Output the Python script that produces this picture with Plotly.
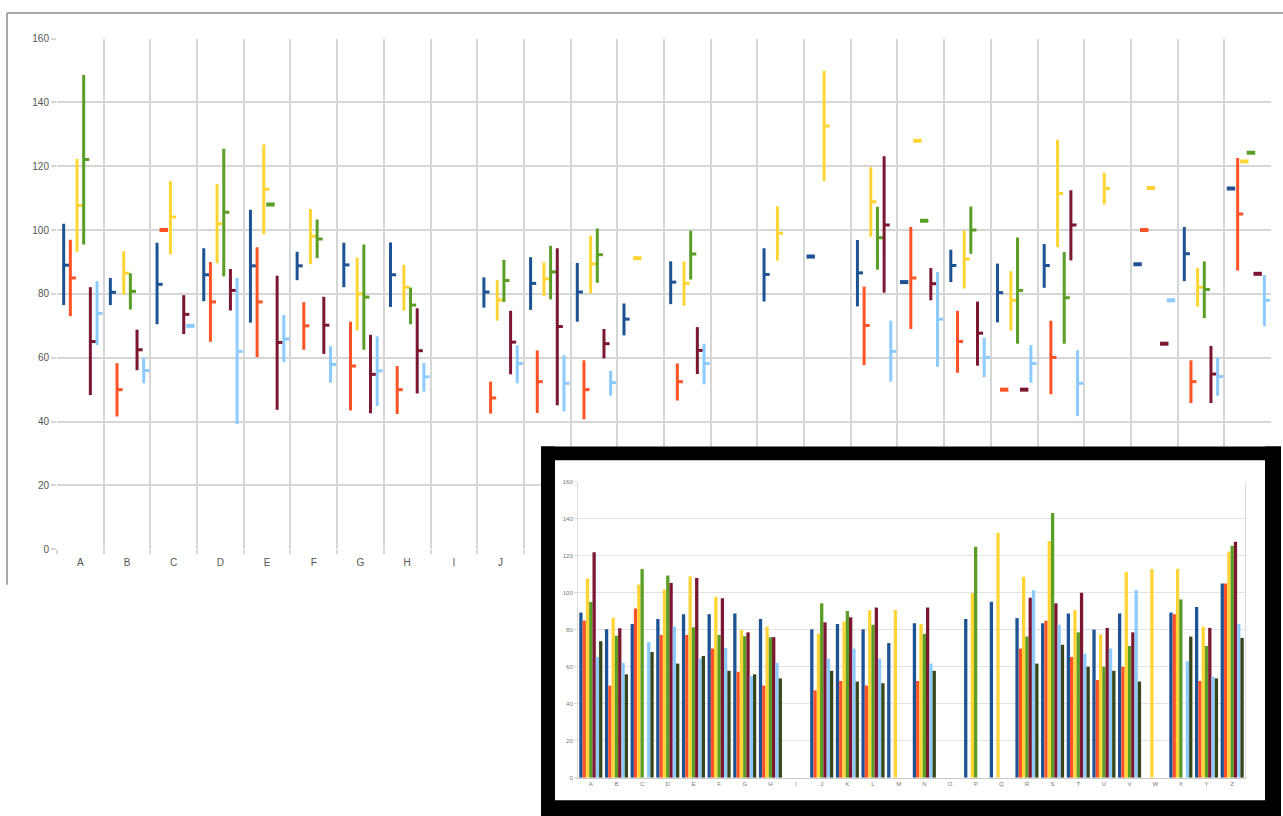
import plotly.graph_objects as go

categories = list("ABCDEFGHIJKLMNOPQRSTUVWXYZ")
colors = ["#1d5294", "#ff5326", "#ffd536", "#5b9e26", "#7c1731", "#8ccaff", "#36461a"]
N = None

# ---- main chart: high / low / close per series ----
s1_high = [102, 85, 96, 94.3, 106.4, 93.2, 96, 96.1, N, 85.2, 91.5, 89.7, 77, 90.2, N, 94.3, 91.7, 96.9, 83.7, 93.8, 89.5, 95.6, N, 89.3, 101, 113]
s1_low = [76.5, 76.5, 70.5, 77.7, 71, 84.3, 82.1, 75.9, N, 75.7, 75, 71.3, 67, 76.8, N, 77.6, 91.7, 76.1, 83.7, 83.7, 71.1, 81.9, N, 89.3, 84, 113]
s1_close = [89, 80.5, 83, 86, 88.8, 88.8, 89.1, 86, N, 80.6, 83.3, 80.6, 72.1, 83.7, N, 86.1, 91.7, 86.6, 83.7, 88.9, 80.4, 88.9, N, 89.3, 92.6, 113]

s2_high = [97, 58.3, 100, 90, 94.6, 77.4, 71.3, 57.4, N, 52.5, 62.3, 59.2, N, 58.2, N, N, N, 82.3, 101, 74.7, 50, 71.6, N, 100, 59.2, 122.6]
s2_low = [73, 41.6, 100, 65, 60.2, 62.5, 43.5, 42.4, N, 42.5, 42.7, 40.7, N, 46.6, N, N, N, 57.7, 69, 55.3, 50, 48.6, N, 100, 45.8, 87.3]
s2_close = [85, 50, 100, 77.5, 77.5, 70, 57.4, 50, N, 47.4, 52.5, 50, N, 52.5, N, N, N, 70.1, 85, 65.1, 50, 60.1, N, 100, 52.5, 105]

s3_high = [122.3, 93.4, 115.4, 114.4, 126.8, 106.6, 91.4, 89.1, N, 84.3, 89.9, 98.2, 91.2, 90.2, N, 107.5, 149.9, 119.7, 128, 99.8, 87.1, 128.3, 118, 113.2, 88.1, 121.5]
s3_low = [93.2, 79.8, 92.4, 89.6, 98.7, 89.3, 68.6, 74.8, N, 71.6, 79.4, 80.2, 91.2, 76.3, N, 90.4, 115.4, 97.9, 128, 81.7, 68.5, 94.6, 108, 113.2, 76, 121.5]
s3_close = [107.7, 86.5, 104.1, 102, 112.8, 98.1, 80, 82.1, N, 78.1, 84.7, 89.4, 91.2, 83.3, N, 99, 132.6, 108.9, 128, 90.9, 78, 111.5, 113, 113.2, 82.1, 121.5]

s4_high = [148.6, 86.5, N, 125.5, 108, 103.3, 95.5, 82, N, 90.7, 95.1, 100.5, N, 99.8, N, N, N, 107.3, 102.9, 107.4, 97.7, 93.1, N, N, 90.2, 124.2]
s4_low = [95.5, 75.1, N, 85.5, 108, 91.2, 62.5, 70.5, N, 77.5, 78.3, 83.5, N, 84.5, N, N, N, 87.6, 102.9, 92.6, 64.4, 64.4, N, N, 72.4, 124.2]
s4_close = [122.1, 80.8, N, 105.6, 108, 97.2, 79, 76.5, N, 84.2, 86.9, 92.3, N, 92.5, N, N, N, 97.6, 102.9, 100, 81.1, 78.8, N, N, 81.4, 124.2]

s5_high = [82.1, 68.8, 79.6, 87.8, 85.7, 79.1, 67.2, 75.5, N, 74.7, 94.3, 69, N, 69.6, N, N, N, 123.1, 88.1, 77.6, 50, 112.5, N, 64.4, 63.7, 86.3]
s5_low = [48.3, 56.1, 67.4, 74.8, 43.7, 61.2, 42.6, 48.8, N, 54.8, 45.1, 59.8, N, 54.9, N, N, N, 80.4, 78, 57.5, 50, 90.5, N, 64.4, 45.8, 86.3]
s5_close = [65.1, 62.5, 73.6, 81.1, 64.8, 70.2, 54.8, 62.2, N, 64.9, 69.8, 64.4, N, 62.3, N, N, N, 101.6, 83.2, 67.7, 50, 101.6, N, 64.4, 54.9, 86.3]

s6_high = [84, 59.9, 70, 85, 73.4, 63.6, 66.7, 58.4, N, 63.9, 60.8, 55.9, N, 64.4, N, N, N, 71.6, 86.9, 66.3, 63.9, 62.3, N, 78, 60.1, 85.9]
s6_low = [64, 52, 70, 39.2, 58.6, 52.2, 44.9, 49.4, N, 52, 43.2, 48.1, N, 51.7, N, N, N, 52.5, 57.2, 53.9, 52.2, 41.7, N, 78, 48.1, 69.9]
s6_close = [73.9, 56, 70, 62, 65.9, 57.9, 55.9, 54, N, 58.2, 52, 52.2, N, 58.2, N, N, N, 62, 72.1, 60.1, 58.2, 52, N, 78, 54.1, 78]

# ---- inset bar chart ----
b1 = [89.3, 80.2, 83.1, 85.8, 88.4, 88.4, 88.8, 85.8, N, 80.2, 83.1, 80.2, 72.8, 83.5, N, 85.8, 95.2, 86.3, 83.5, 88.8, 80.1, 88.8, N, 89.3, 92.3, 105]
b2 = [85, 49.8, 91.5, 77.2, 77.2, 69.8, 57.3, 49.8, N, 47.2, 52.3, 49.8, N, 52.3, N, N, N, 69.8, 84.9, 65.3, 52.8, 60, N, 88.4, 52.3, 105]
b3 = [107.7, 86.5, 104.4, 101.8, 108.9, 97.9, 79.9, 81.7, N, 77.8, 84.5, 90.6, 90.7, 83.1, N, 99.8, 132.4, 108.7, 127.9, 90.6, 77.4, 111.2, 112.8, 113, 81.7, 122.2]
b4 = [95, 76.7, 112.8, 109.3, 81.3, 77.2, 76.5, 76, N, 94.3, 90.2, 82.7, N, 77.8, N, 124.9, N, 76.3, 143.1, 78.6, 60, 71.2, N, 96.4, 71.2, 125.4]
b5 = [121.9, 80.8, N, 105.3, 108, 97, 78.6, 76, N, 84, 86.7, 92, N, 92, N, N, N, 97.3, 94.3, 100, 81, 78.6, N, N, 81, 127.6]
b6 = [65.3, 62.1, 73.3, 81.7, 64.4, 70.1, 55, 62.1, N, 64.4, 69.8, 64.4, N, 61.7, N, N, N, 101.4, 82.7, 67.1, 69.8, 101.4, N, 63, 54.6, 83.1]
b7 = [73.8, 55.9, 68, 61.7, 65.8, 57.8, 55.9, 53.7, N, 57.8, 52, 51.1, N, 57.8, N, N, N, 61.7, 71.9, 60, 57.8, 52, N, 76.3, 53.7, 75.6]

HIGH = [s1_high, s2_high, s3_high, s4_high, s5_high, s6_high]
LOW = [s1_low, s2_low, s3_low, s4_low, s5_low, s6_low]
CLOSE = [s1_close, s2_close, s3_close, s4_close, s5_close, s6_close]
BARS = [b1, b2, b3, b4, b5, b6, b7]

W, H = 1283, 816
def px(x):
    return x / W
def py(y):
    return 1 - y / H

GRID = "#d6d6d6"
FONT = "Liberation Sans"

fig = go.Figure()

# main chart: high-low lines with close ticks
for s in range(6):
    xs, ys = [], []
    mx, my = [], []
    sx, sy = [], []
    for i in range(len(categories)):
        if CLOSE[s][i] is None:
            continue
        xc = i + 0.5 + (s - 2.5) / 7
        if HIGH[s][i] != LOW[s][i]:
            xs += [xc, xc, None]
            ys += [LOW[s][i], HIGH[s][i], None]
            mx.append(xc + 0.06)
            my.append(CLOSE[s][i])
        else:
            sx.append(xc)
            sy.append(CLOSE[s][i])
    fig.add_trace(go.Scatter(x=xs, y=ys, mode="lines", line=dict(color=colors[s], width=3),
                             xaxis="x", yaxis="y", showlegend=False, hoverinfo="skip"))
    fig.add_trace(go.Scatter(x=mx, y=my, mode="markers",
                             marker=dict(symbol="line-ew", size=4, color=colors[s],
                                         line=dict(color=colors[s], width=3)),
                             xaxis="x", yaxis="y", showlegend=False))
    fig.add_trace(go.Scatter(x=sx, y=sy, mode="markers",
                             marker=dict(symbol="line-ew", size=6, color=colors[s],
                                         line=dict(color=colors[s], width=4)),
                             xaxis="x", yaxis="y", showlegend=False))

# white mask subplot (covers main chart inside the frame)
fig.add_trace(go.Scatter(x=[None], y=[None], xaxis="x2", yaxis="y2", showlegend=False))

# inset bar chart
for s in range(7):
    fig.add_trace(go.Bar(x=categories, y=BARS[s], marker=dict(color=colors[s], line=dict(width=0)),
                         xaxis="x3", yaxis="y3", showlegend=False))

def black_box(x0, y0, x1, y1):
    return dict(type="rect", xref="paper", yref="paper", x0=px(x0), x1=px(x1),
                y0=py(y1), y1=py(y0), line=dict(width=0), fillcolor="black", layer="above")

fig.update_layout(
    width=W, height=H, autosize=False,
    margin=dict(l=0, r=0, t=0, b=0),
    paper_bgcolor="white", plot_bgcolor="#ffffff",
    barmode="group", bargap=0.1, bargroupgap=0,
    font=dict(family=FONT, color="#555"),
    xaxis=dict(domain=[px(57), px(1271)], range=[0, 26], anchor="y",
               tickmode="array", tickvals=[i + 0.5 for i in range(26)], ticktext=categories,
               showgrid=False, ticks="", zeroline=False, showline=False,
               tickfont=dict(size=10, color="#555"), ticklabelstandoff=6,
               minor=dict(tickmode="linear", tick0=0, dtick=1, showgrid=True, gridcolor=GRID,
                          gridwidth=1.5, ticks="outside", ticklen=4, tickcolor=GRID, tickwidth=1.5)),
    yaxis=dict(domain=[py(551), py(34)], range=[0, 160], dtick=20, anchor="x",
               gridcolor=GRID, gridwidth=1.5, zeroline=False, showline=False,
               ticks="outside", ticklen=5, tickcolor=GRID, tickwidth=1.5,
               tickfont=dict(size=10, color="#555")),
    xaxis2=dict(domain=[px(555), px(1265)], range=[0, 1], visible=False, anchor="y2"),
    yaxis2=dict(domain=[py(805), py(461)], range=[0, 1], visible=False, anchor="x2"),
    xaxis3=dict(domain=[px(578), px(1245)], anchor="y3", type="category",
                categoryorder="array", categoryarray=categories,
                showgrid=False, showline=True, linecolor="#c8c8c8", linewidth=1,
                ticks="", tickfont=dict(size=6, color="#777")),
    yaxis3=dict(domain=[py(782.3), py(482.7)], anchor="x3", range=[0, 160], dtick=20,
                gridcolor="#e2e2e2", gridwidth=1, zeroline=False,
                showline=True, linecolor="#dcdcdc", mirror=True,
                ticks="outside", ticklen=3, tickcolor="#dcdcdc",
                tickfont=dict(size=6, color="#777")),
    shapes=[
        dict(type="line", xref="paper", yref="paper", x0=px(7), x1=1, y0=py(8), y1=py(8),
             line=dict(color="#a8a8a8", width=2), layer="above"),
        dict(type="line", xref="paper", yref="paper", x0=px(7), x1=px(7), y0=py(8), y1=py(587),
             line=dict(color="#a8a8a8", width=2), layer="above"),
        black_box(541, 447, 1281, 461),   # frame top
        black_box(541, 447, 555, 830),    # frame left
        black_box(1265, 447, 1281, 830),  # frame right
        black_box(541, 805, 1281, 830),   # frame bottom
    ],
)

fig.write_html("out.html", config={"displayModeBar": False},
               post_script="document.body.style.margin='0';document.body.style.overflow='hidden';")
